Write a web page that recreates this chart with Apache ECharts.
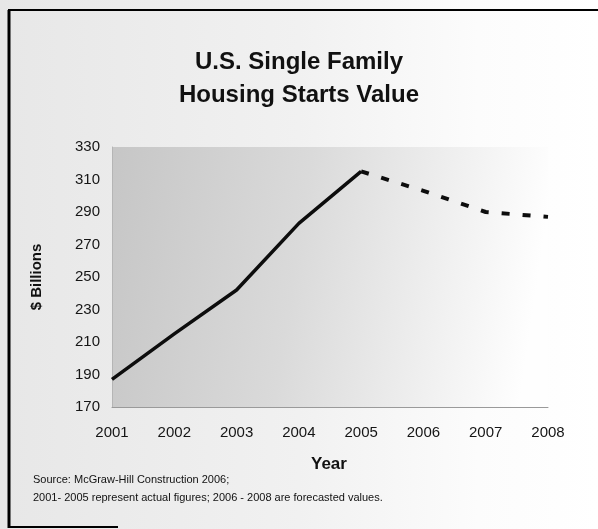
<!DOCTYPE html>
<html>
<head>
<meta charset="utf-8">
<script src="https://cdn.jsdelivr.net/npm/echarts@6/dist/echarts.min.js"></script>
<style>
  html, body { margin: 0; padding: 0; }
  body { background: linear-gradient(90deg, #e7e7e7 0%, #f1f1f1 50%, #fcfcfc 80%, #ffffff 100%); }
  #main { width: 598px; height: 529px; }
</style>
</head>
<body>
<div id="main"></div>
<script>
var years = ['2001', '2002', '2003', '2004', '2005', '2006', '2007', '2008'];
// actual 2001-2005, forecast 2005-2008 (shares the 2005 point)
var actual = [187, 215, 242, 283, 315, null, null, null];
var forecast = [null, null, null, null, 315, 303, 290, 287];
var yTicks = [170, 190, 210, 230, 250, 270, 290, 310, 330];

var font = '"Liberation Sans", Arial, sans-serif';
var myChart = echarts.init(document.getElementById('main'));

var option = {
  animation: false,
  title: {
    text: 'U.S. Single Family\nHousing Starts Value',
    left: 'center',
    top: 41,
    textStyle: { fontFamily: font, fontSize: 24, fontWeight: 'bold', color: '#111', lineHeight: 33 }
  },
  grid: {
    left: 112, right: 50, top: 147, bottom: 122,
    show: true,
    borderWidth: 0,
    backgroundColor: new echarts.graphic.LinearGradient(0, 0, 1, 0.25, [
      { offset: 0, color: '#c6c6c6' },
      { offset: 0.45, color: '#dadada' },
      { offset: 0.8, color: '#f1f1f1' },
      { offset: 1, color: '#fefefe' }
    ])
  },
  xAxis: {
    type: 'category',
    data: years,
    boundaryGap: false,
    axisLine: { lineStyle: { color: '#9a9a9a', width: 1 } },
    axisTick: { show: false },
    axisLabel: { fontFamily: font, fontSize: 15, color: '#151515', margin: 18 }
  },
  yAxis: {
    type: 'value',
    min: yTicks[0],
    max: yTicks[yTicks.length - 1],
    interval: 20,
    name: '$ Billions',
    nameLocation: 'middle',
    nameGap: 68,
    nameTextStyle: { fontFamily: font, fontSize: 15, fontWeight: 'bold', color: '#111' },
    splitLine: { show: false },
    axisLine: { show: true, lineStyle: { color: '#b5b5b5', width: 1 } },
    axisTick: { show: false },
    axisLabel: { fontFamily: font, fontSize: 15, color: '#151515', margin: 12 }
  },
  graphic: [
    { type: 'text', left: 311, top: 456,
      style: { text: 'Year', fontFamily: font, fontSize: 17, fontWeight: 'bold', fill: '#111' } },
    { type: 'text', left: 33, top: 474,
      style: { text: 'Source: McGraw-Hill Construction 2006;', fontFamily: font, fontSize: 11, fill: '#111' } },
    { type: 'text', left: 33, top: 492,
      style: { text: '2001- 2005 represent actual figures; 2006 - 2008 are forecasted values.', fontFamily: font, fontSize: 11, fill: '#111' } },
    // frame lines
    { type: 'line', shape: { x1: 8, y1: 10, x2: 598, y2: 10 }, style: { stroke: '#000', lineWidth: 2 } },
    { type: 'line', shape: { x1: 9, y1: 10, x2: 9, y2: 528 }, style: { stroke: '#000', lineWidth: 3 } },
    { type: 'line', shape: { x1: 8, y1: 527, x2: 118, y2: 527 }, style: { stroke: '#000', lineWidth: 2 } }
  ],
  series: [
    {
      name: 'Actual',
      type: 'line',
      data: actual,
      showSymbol: false,
      lineStyle: { color: '#0d0d0d', width: 3.5 }
    },
    {
      name: 'Forecast',
      type: 'line',
      data: forecast,
      showSymbol: false,
      lineStyle: { color: '#0d0d0d', width: 4, type: [8, 13] }
    }
  ]
};

myChart.setOption(option);
</script>
</body>
</html>
